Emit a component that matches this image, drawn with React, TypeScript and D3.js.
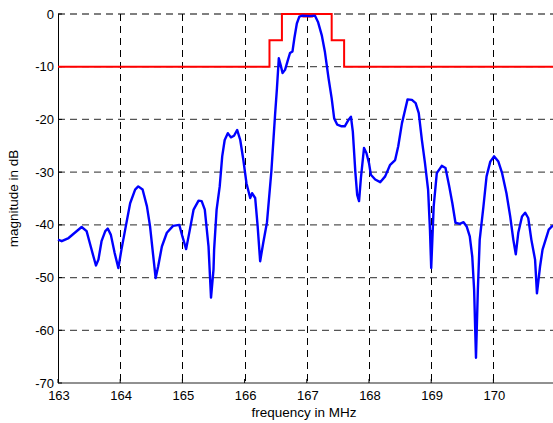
import React from 'react';
import * as d3 from 'd3';

// measured response (MHz, dB)
const freq = [
  163.0, 163.06, 163.17, 163.27, 163.38, 163.46, 163.51, 163.57, 163.61, 163.65, 163.70, 163.76, 163.80, 163.85, 163.91, 163.97,
  164.02, 164.08, 164.16, 164.24, 164.29, 164.36, 164.43, 164.48, 164.52, 164.57, 164.61, 164.67, 164.75, 164.85, 164.95, 165.0,
  165.06, 165.12, 165.18, 165.26, 165.31, 165.36, 165.42, 165.46, 165.50, 165.51, 165.55, 165.60, 165.64, 165.68, 165.73, 165.78,
  165.83, 165.88, 165.93, 165.98, 166.03, 166.09, 166.12, 166.17, 166.21, 166.25, 166.30, 166.36, 166.43, 166.49, 166.52, 166.55,
  166.58, 166.61, 166.65, 166.69, 166.73, 166.77, 166.80, 166.84, 166.88, 166.93, 167.05, 167.13, 167.18, 167.24, 167.29, 167.35,
  167.40, 167.44, 167.49, 167.56, 167.61, 167.67, 167.71, 167.74, 167.78, 167.81, 167.84, 167.87, 167.92, 167.96, 168.0, 168.03,
  168.10, 168.18, 168.26, 168.34, 168.42, 168.47, 168.53, 168.58, 168.62, 168.69, 168.75, 168.80, 168.85, 168.90, 168.95, 168.98,
  169.0, 169.04, 169.09, 169.17, 169.23, 169.29, 169.34, 169.39, 169.46, 169.52, 169.57, 169.62, 169.66, 169.69, 169.72, 169.75,
  169.78, 169.84, 169.89, 169.95, 170.01, 170.08, 170.14, 170.21, 170.27, 170.32, 170.36, 170.40, 170.46, 170.51, 170.56, 170.61,
  170.67, 170.70, 170.75, 170.79, 170.84, 170.89, 170.94, 171.0,
];
const magnitude = [
  -42.8, -43.1, -42.5, -41.5, -40.4, -41.2, -43.4, -46.0, -47.7, -46.6, -43.1, -41.2, -40.7, -41.9, -45.3, -48.2,
  -44.7, -40.9, -35.9, -33.3, -32.7, -33.3, -36.5, -40.3, -44.7, -50.1, -47.9, -44.1, -41.5, -40.2, -40.0, -42.2,
  -44.6, -40.9, -37.1, -35.4, -35.5, -37.1, -44.1, -53.8, -48.5, -44.7, -37.1, -32.7, -27.0, -23.9, -22.6, -23.4,
  -23.1, -22.0, -23.9, -27.7, -32.1, -34.9, -34.0, -34.9, -40.3, -46.9, -43.4, -39.5, -29.9, -19.1, -14.1, -8.4,
  -9.7, -11.2, -10.6, -9.0, -7.4, -7.1, -4.6, -1.8, -0.5, -0.3, -0.4, -0.3, -1.5, -4.0, -7.1, -12.2,
  -16.0, -19.8, -21.0, -21.3, -21.3, -20.1, -19.5, -22.3, -29.9, -34.3, -35.5, -31.1, -25.4, -26.4, -28.3, -30.5,
  -31.4, -31.9, -30.8, -28.6, -27.7, -25.1, -20.7, -18.2, -16.2, -16.3, -16.9, -18.8, -23.9, -28.3, -33.3, -40.9,
  -48.2, -36.5, -30.2, -28.8, -29.2, -32.7, -35.9, -39.6, -39.8, -39.5, -40.3, -42.2, -46.0, -52.3, -65.2, -52.3,
  -42.8, -36.5, -30.8, -28.0, -27.0, -28.0, -30.2, -34.0, -38.4, -42.8, -45.6, -41.5, -38.4, -37.7, -38.7, -42.8,
  -46.6, -53.0, -47.9, -44.7, -42.8, -40.9, -40.3, -40.0,
];

// spectral mask (step line)
const maskFreq = [163, 166.4, 166.4, 166.6, 166.6, 167.4, 167.4, 167.6, 167.6, 171];
const maskLevel = [-10, -10, -5, -5, 0, 0, -5, -5, -10, -10];

// small red marker near the peak
const markFreq = [166.94, 166.94, 167.09, 167.09];
const markLevel = [-0.1, -0.5, -0.5, -0.1];

const xTicks = [163, 164, 165, 166, 167, 168, 169, 170];
const yTicks = [0, -10, -20, -30, -40, -50, -60, -70];

const W = 553, H = 423;
const margin = { top: 14, left: 58, bottom: 40, right: -3 };

export default function App() {
  const x = d3.scaleLinear().domain([163, 171]).range([margin.left, margin.left + 8 * 62.2]);
  const y = d3.scaleLinear().domain([-70, 0]).range([383, margin.top]);

  const line = d3.line<[number, number]>().x(d => x(d[0])).y(d => y(d[1]));
  const blue = line(freq.map((f, i) => [f, magnitude[i]]));
  const mask = line(maskFreq.map((f, i) => [f, maskLevel[i]]));
  const mark = line(markFreq.map((f, i) => [f, markLevel[i]]));

  const font = 'Liberation Sans, Arial, Helvetica, sans-serif';
  const left = x(163), right = x(171), top = y(0), bottom = y(-70);

  return (
    <svg width={W} height={H} style={{ position: 'absolute', left: 0, top: 0, background: '#fff' }}>
      <rect width={W} height={H} fill="#fff" />
      {/* grid */}
      {yTicks.filter(t => t !== -70).map(t => (
        <line key={'gy' + t} x1={left} x2={right} y1={y(t)} y2={y(t)}
          stroke="#555" strokeWidth={1.3} strokeDasharray="7,5" />
      ))}
      {xTicks.filter(t => t !== 163).map(t => (
        <line key={'gx' + t} x1={Math.round(x(t)) + 0.5} x2={Math.round(x(t)) + 0.5} y1={top} y2={bottom}
          stroke="#000" strokeWidth={1} strokeDasharray="7,5" />
      ))}
      {/* axes */}
      <line x1={left + 0.5} x2={left + 0.5} y1={top} y2={bottom} stroke="#000" strokeWidth={1} />
      <line x1={left} x2={right} y1={bottom} y2={bottom} stroke="#222" strokeWidth={1} />
      {yTicks.map(t => (
        <g key={'ty' + t}>
          <line x1={left} x2={left + 4} y1={y(t)} y2={y(t)} stroke="#000" />
          <text x={left - 4} y={y(t) + 4.5} textAnchor="end" fontFamily={font} fontSize={13} fill="#000">{t}</text>
        </g>
      ))}
      {xTicks.map(t => (
        <g key={'tx' + t}>
          <line x1={x(t)} x2={x(t)} y1={bottom} y2={bottom - 4} stroke="#000" />
          <text x={x(t) + 1} y={bottom + 17} textAnchor="middle" fontFamily={font} fontSize={13} fill="#000">{t}</text>
        </g>
      ))}
      {/* data */}
      <path d={mask ?? ''} fill="none" stroke="#ff0000" strokeWidth={2} />
      <path d={mark ?? ''} fill="none" stroke="#ff0000" strokeWidth={1.5} />
      <path d={blue ?? ''} fill="none" stroke="#0000ff" strokeWidth={2.4} strokeLinejoin="round" />
      {/* labels */}
      <text x={304} y={417} textAnchor="middle" fontFamily={font} fontSize={13.5} fill="#000">frequency in MHz</text>
      <text transform={`translate(18,${(top + bottom) / 2}) rotate(-90)`} textAnchor="middle"
        fontFamily={font} fontSize={13.5} fill="#000">magnitude in dB</text>
    </svg>
  );
}
